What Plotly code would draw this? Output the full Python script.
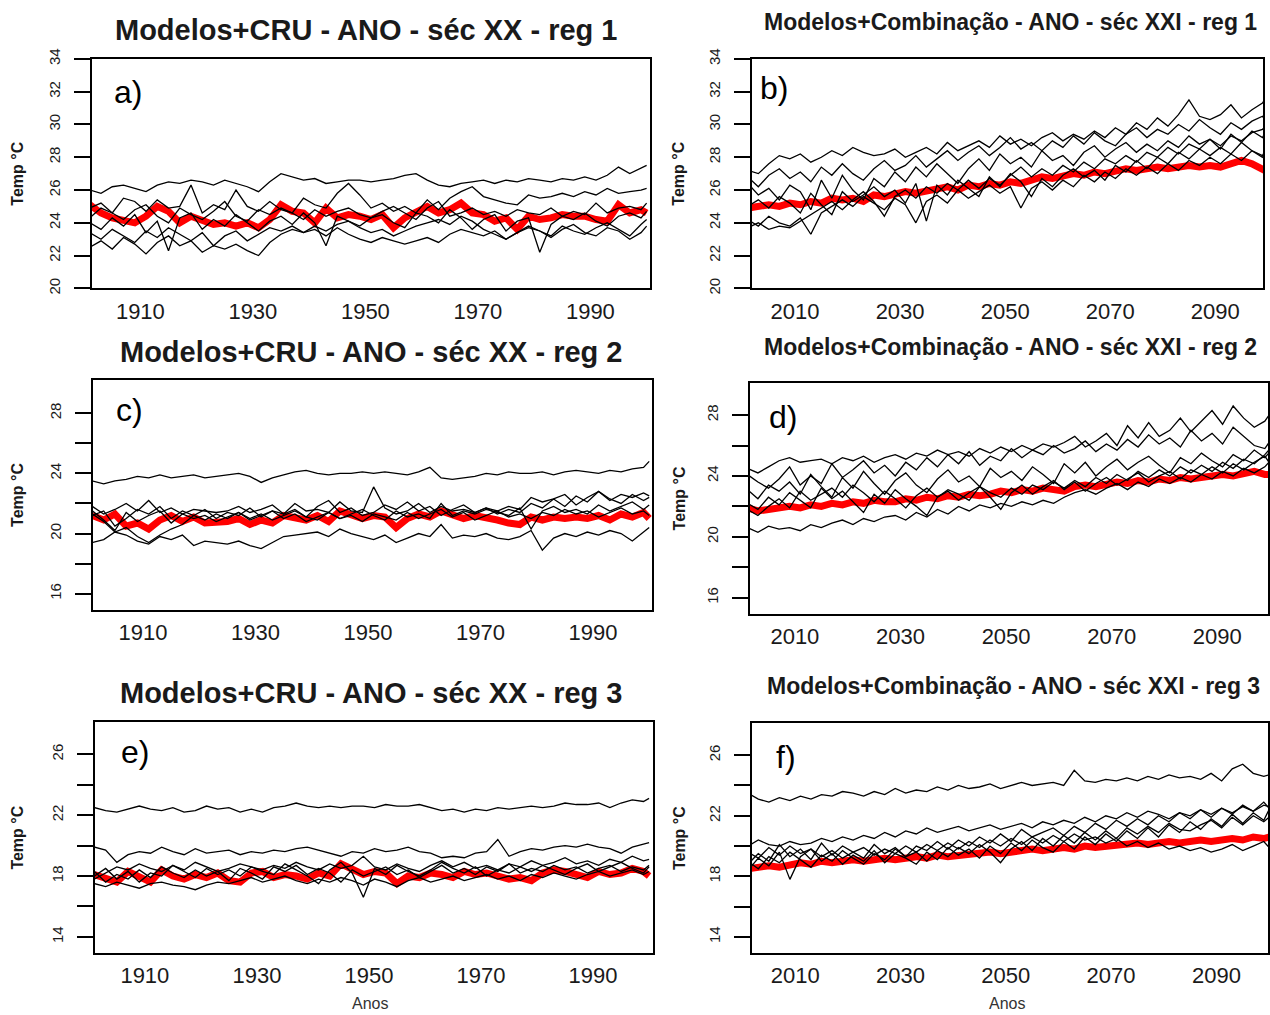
import plotly.graph_objects as go

# ---------------- years (every 2 years + final year) ----------------
years_xx = list(range(1901, 2000, 2)) + [2000]
years_xxi = list(range(2001, 2100, 2)) + [2100]

ticks_xx = [1910, 1930, 1950, 1970, 1990]
ticks_xxi = [2010, 2030, 2050, 2070, 2090]

# ---------------- panel a : sec XX reg 1 ----------------
a_cru = [25.1, 24.6, 24.3, 24.2, 24.0, 24.4, 25.0, 24.7, 24.0, 24.4,
         24.1, 23.9, 24.0, 23.8, 24.0, 23.7, 24.2, 25.1, 24.7, 24.6,
         24.0, 24.9, 24.3, 24.5, 24.4, 24.2, 24.5, 23.7, 24.3, 24.6,
         25.0, 24.6, 24.8, 25.2, 24.6, 24.5, 24.1, 24.3, 23.6, 24.4,
         24.2, 24.3, 24.5, 24.4, 24.4, 24.2, 24.1, 25.1, 24.6, 24.8, 24.6]
a_m1 = [26.0, 25.8, 26.2, 26.3, 26.1, 25.9, 26.3, 26.5, 26.4, 26.6,
        26.5, 26.3, 26.6, 26.4, 26.2, 25.9, 26.5, 27.0, 26.8, 26.6,
        26.7, 26.4, 26.5, 26.6, 26.6, 26.5, 26.6, 26.7, 26.9, 27.0,
        26.6, 26.3, 26.2, 26.4, 26.5, 26.6, 26.4, 26.6, 26.5, 26.7,
        26.6, 26.5, 26.7, 26.6, 26.8, 26.6, 26.9, 27.4, 27.0, 27.3, 27.5]
a_m2 = [24.9, 25.2, 24.6, 25.5, 25.3, 24.7, 25.4, 24.9, 25.0, 26.3,
        24.6, 25.1, 24.8, 26.0, 25.0, 24.7, 25.3, 24.8, 24.6, 25.5,
        25.1, 24.9, 25.8, 26.4, 25.7, 24.9, 25.2, 24.7, 25.0, 24.6,
        25.4, 24.8, 25.5, 25.9, 26.2, 25.6, 25.4, 25.2, 25.1, 25.7,
        25.5, 25.6, 25.8, 25.6, 25.9, 25.7, 26.1, 25.8, 25.9, 26.0, 26.1]
a_m3 = [24.3, 24.9, 24.6, 24.2, 24.8, 25.1, 24.4, 24.0, 24.9, 24.5,
        24.2, 24.7, 25.3, 24.4, 24.1, 24.8, 24.5, 24.9, 24.6, 24.2,
        24.8, 24.4, 24.7, 24.9, 24.5, 24.3, 24.7, 25.0, 24.6, 24.2,
        24.9, 25.3, 24.4, 24.6, 24.9, 24.5, 24.7, 24.4, 24.8, 24.6,
        24.5, 24.9, 24.4, 24.7, 24.5, 25.2, 24.6, 24.9, 25.0, 24.8, 25.2]
a_m4 = [24.0, 23.6, 24.3, 23.8, 24.5, 23.4, 24.1, 22.3, 24.3, 24.6,
        23.6, 24.2, 23.8, 24.5, 24.0, 23.5, 24.1, 24.4, 23.9, 24.6,
        24.0, 22.6, 24.4, 24.1, 23.8, 24.3, 24.5, 24.0, 23.7, 24.6,
        24.4, 24.0, 24.8, 24.3, 23.6, 24.2, 24.5, 23.5, 24.1, 24.3,
        22.2, 23.9, 24.4, 24.2, 24.6, 24.1, 23.8, 24.4, 24.6, 24.3, 24.7]
a_m5 = [23.4, 23.0, 23.6, 23.2, 22.8, 23.5, 23.1, 23.7, 23.3, 22.9,
        23.4, 22.6, 23.2, 23.5, 22.9, 23.3, 23.7, 23.5, 23.8, 23.4,
        23.6, 23.2, 23.7, 23.3, 23.0, 22.8, 23.1, 22.9, 22.7, 22.9,
        23.1, 22.8, 23.3, 23.6, 23.4, 23.2, 23.5, 23.0, 23.4, 23.7,
        23.5, 23.2, 23.8, 23.5, 23.3, 23.7, 24.0, 23.6, 23.2, 23.9, 24.2]
a_m6 = [22.5, 22.9, 22.4, 23.1, 22.7, 22.1, 22.8, 23.2, 22.6, 22.9,
        22.2, 22.6, 22.4, 22.7, 22.3, 22.0, 22.8, 23.3, 23.6, 23.4,
        23.8, 23.5, 23.9, 24.1, 23.7, 23.4, 23.6, 23.2, 23.5, 23.8,
        24.0, 24.2, 23.9, 24.4, 24.1, 23.6, 23.3, 23.0, 23.4, 23.8,
        23.5, 23.1, 23.6, 23.9, 23.4, 23.2, 23.7, 23.5, 23.0, 23.4, 23.8]

# ---------------- panel b : sec XXI reg 1 ----------------
b_comb = [24.9, 25.0, 25.1, 25.0, 25.2, 25.1, 25.3, 25.2, 25.5, 25.4,
          25.5, 25.3, 25.7, 25.6, 25.8, 25.9, 25.8, 25.9, 26.0, 26.2,
          26.0, 26.3, 26.2, 26.4, 26.3, 26.5, 26.4, 26.6, 26.8, 26.7,
          26.9, 27.0, 26.9, 27.1, 27.0, 27.2, 27.3, 27.2, 27.3, 27.4,
          27.3, 27.4, 27.5, 27.4, 27.5, 27.4, 27.6, 27.8, 27.6, 27.3, 27.1]
b_m1 = [27.2, 27.0, 27.6, 28.1, 27.9, 28.2, 27.7, 28.0, 28.4, 28.1,
        28.6, 28.3, 28.1, 28.2, 28.5, 28.0, 28.3, 28.6, 28.2, 28.9,
        28.4, 28.7, 29.0, 28.6, 29.3, 28.8, 29.1, 28.7, 29.2, 29.5,
        29.0, 29.4, 29.1, 29.6, 29.2, 29.8, 29.4, 30.1, 29.7, 30.4,
        29.9, 30.6, 31.5, 30.5, 30.3, 30.6, 31.2, 30.4, 30.9, 31.3, 31.8]
b_m2 = [26.8, 26.2, 26.9, 27.3, 26.7, 27.1, 26.5, 27.4, 26.9, 27.6,
        27.0, 26.6, 27.3, 27.8, 27.2, 27.5, 28.1, 27.4, 27.9, 28.4,
        27.8, 28.3, 28.7, 28.1, 28.6, 29.2, 28.5, 28.9, 28.4, 29.0,
        28.6, 29.3, 28.8, 29.5, 29.0, 28.7, 29.4, 29.8, 29.2, 29.7,
        29.4, 30.0, 29.6, 30.3, 29.8, 29.4, 30.1, 29.7, 30.2, 30.5, 30.0]
b_m3 = [26.4, 25.7, 26.1, 25.4, 26.3, 25.9, 24.8, 26.6, 25.5, 26.9,
        26.0, 25.4, 26.7, 26.2, 27.1, 26.5, 27.4, 26.8, 27.6, 27.0,
        26.4, 27.3, 27.9, 27.2, 28.2, 27.6, 28.0, 27.4, 28.4, 27.8,
        28.1, 27.5, 28.3, 28.7, 28.0, 28.5, 28.9, 28.3, 28.8, 28.4,
        29.0, 28.6, 29.3, 28.8, 29.1, 28.5, 29.4, 28.9, 29.6, 29.2, 29.8]
b_m4 = [25.0, 25.4, 24.9, 25.6, 25.2, 24.6, 25.8, 25.1, 24.5, 25.9,
        25.3, 25.7, 26.2, 25.6, 26.0, 25.2, 26.4, 24.1, 26.3, 25.7,
        26.6, 26.1, 25.6, 26.8, 26.2, 27.0, 26.5, 25.6, 26.7, 26.2,
        26.9, 27.3, 26.8, 27.2, 26.6, 27.5, 27.1, 27.8, 27.3, 28.0,
        27.6, 28.3, 27.9, 28.5, 28.1, 28.6, 28.2, 28.9, 28.4, 28.0, 28.5]
b_m5 = [24.2, 23.8, 24.4, 24.0, 23.8, 24.3, 23.3, 24.6, 25.0, 25.4,
        25.0, 25.6, 25.2, 24.8, 25.5, 25.1, 24.0, 25.3, 25.7, 25.2,
        26.0, 25.5, 25.9, 26.3, 25.8, 26.2, 24.9, 26.1, 26.5, 26.0,
        26.6, 26.2, 26.9, 26.5, 27.1, 26.7, 27.3, 26.9, 27.4, 27.0,
        27.6, 27.2, 27.8, 27.5, 28.0, 27.6, 28.2, 27.8, 28.4, 28.1, 28.7]
b_m6 = [23.7, 24.0, 23.6, 23.8, 23.7, 24.1, 24.5, 24.9, 25.3, 24.8,
        25.4, 25.9, 25.3, 24.4, 25.6, 26.0, 25.5, 26.2, 25.8, 26.4,
        26.0, 26.6, 26.1, 26.7, 26.3, 26.9, 27.4, 26.8, 27.3, 26.9,
        27.5, 27.1, 27.7, 27.3, 27.9, 27.6, 28.1, 27.7, 28.3, 28.0,
        28.6, 28.2, 28.8, 28.5, 29.1, 28.7, 29.3, 29.0, 29.5, 29.7, 30.1]

# ---------------- panel c : sec XX reg 2 ----------------
c_cru = [21.2, 20.9, 21.3, 20.5, 20.7, 20.3, 20.9, 21.2, 20.8, 21.1,
         20.7, 20.7, 20.8, 21.0, 20.6, 20.9, 20.7, 21.2, 21.0, 20.9,
         21.2, 20.8, 21.5, 21.2, 21.0, 21.2, 21.1, 20.4, 21.0, 21.3,
         21.1, 21.5, 21.3, 21.0, 21.2, 21.1, 20.9, 20.7, 20.6, 21.1,
         20.9, 21.1, 21.0, 21.1, 21.0, 21.2, 20.9, 21.3, 21.1, 21.4, 21.0]
c_m1 = [23.5, 23.3, 23.5, 23.6, 23.8, 23.7, 23.9, 23.7, 23.8, 23.9,
        23.7, 23.8, 23.9, 24.0, 23.8, 23.4, 23.7, 23.9, 24.1, 24.2,
        24.0, 23.9, 24.0, 24.0, 24.1, 24.0, 24.1, 24.0, 23.9, 24.1,
        24.4, 23.7, 23.6, 23.7, 23.8, 24.0, 23.9, 24.1, 24.0, 24.0,
        24.1, 23.9, 24.1, 24.2, 24.1, 24.0, 24.2, 24.1, 24.3, 24.4, 24.8]
c_m2 = [21.8, 21.3, 21.6, 22.0, 21.5, 22.2, 21.4, 21.7, 21.3, 21.6,
        21.5, 21.4, 21.5, 21.8, 21.4, 21.6, 21.9, 21.3, 22.0, 21.5,
        21.6, 21.4, 22.1, 21.5, 21.4, 23.1, 21.7, 21.3, 21.5, 22.0,
        21.4, 21.8, 21.5, 21.6, 21.4, 21.7, 21.5, 21.8, 21.6, 22.4,
        22.1, 22.3, 22.6, 21.9, 22.4, 22.8, 22.2, 22.6, 22.4, 22.7, 22.5]
c_m3 = [21.2, 21.5, 20.5, 21.0, 21.6, 21.3, 21.8, 21.0, 21.5, 21.2,
        21.6, 21.0, 21.4, 21.2, 21.7, 21.1, 21.5, 21.3, 21.6, 21.1,
        21.8, 22.2, 21.4, 21.7, 21.2, 21.4, 21.9, 21.6, 22.1, 21.5,
        21.8, 21.2, 21.6, 21.9, 21.4, 21.7, 21.3, 21.6, 21.4, 22.0,
        21.7, 22.3, 21.8, 22.5, 22.1, 22.8, 22.3, 22.0, 22.6, 22.2, 22.4]
c_m4 = [21.5, 20.9, 20.2, 21.4, 20.8, 21.2, 21.5, 20.7, 21.3, 21.0,
        21.2, 20.8, 21.1, 21.4, 21.0, 21.3, 20.9, 21.2, 21.5, 21.1,
        20.9, 21.4, 21.0, 21.3, 21.6, 21.2, 20.9, 21.5, 21.1, 21.3,
        21.0, 22.0, 21.2, 21.5, 21.3, 21.6, 21.4, 21.2, 21.7, 20.3,
        21.5, 21.8, 21.4, 21.6, 21.3, 21.9, 21.5, 21.8, 22.1, 21.6, 21.9]
c_m5 = [21.3, 20.8, 20.1, 20.4, 19.8, 19.4, 19.9, 20.3, 20.6, 21.2,
        20.9, 21.3, 21.0, 21.4, 20.9, 21.2, 21.5, 21.0, 21.3, 20.8,
        21.1, 21.4, 21.0, 21.2, 20.8, 21.3, 21.1, 20.9, 21.4, 21.0,
        21.3, 21.6, 21.1, 21.4, 20.9, 21.2, 21.5, 21.1, 21.3, 21.0,
        21.4, 21.2, 21.6, 21.3, 21.5, 21.1, 21.4, 21.7, 21.3, 21.5, 21.2]
c_m6 = [19.4, 19.6, 20.1, 19.9, 19.5, 19.3, 19.8, 19.6, 19.9, 19.2,
        19.5, 19.4, 19.3, 19.5, 19.2, 19.0, 19.4, 19.8, 19.9, 20.0,
        20.1, 19.8, 20.3, 20.0, 19.8, 19.6, 19.9, 19.4, 19.7, 20.0,
        19.8, 20.6, 19.7, 19.9, 19.8, 20.0, 19.7, 19.6, 19.8, 20.2,
        18.9, 19.7, 20.0, 19.8, 20.1, 19.9, 20.2, 20.0, 19.5, 20.1, 20.4]

# ---------------- panel d : sec XXI reg 2 ----------------
d_comb = [21.9, 21.7, 21.8, 21.9, 22.0, 21.9, 22.1, 22.0, 22.2, 22.1,
          22.3, 22.2, 22.4, 22.3, 22.3, 22.5, 22.4, 22.6, 22.5, 22.7,
          22.6, 22.8, 22.7, 22.8, 23.0, 22.9, 23.1, 23.0, 23.2, 23.1,
          23.0, 23.3, 23.4, 23.3, 23.5, 23.6, 23.5, 23.7, 23.6, 23.8,
          23.7, 23.9, 23.8, 23.9, 24.0, 24.1, 24.0, 24.2, 24.3, 24.1, 24.1]
d_m1 = [24.5, 24.2, 24.6, 25.0, 25.2, 24.9, 25.0, 25.1, 24.8, 25.2,
        25.0, 25.3, 24.9, 25.2, 25.4, 25.1, 25.5, 25.3, 25.7, 25.4,
        25.6, 25.3, 25.8, 25.5, 25.9, 25.6, 26.0, 25.7, 26.1, 25.9,
        26.2, 26.6, 25.9, 26.3, 26.8, 26.0, 27.3, 26.5, 27.5, 26.6,
        27.0, 27.8, 26.9, 27.6, 28.3, 27.4, 28.6, 27.8, 27.2, 27.6, 28.1]
d_m2 = [24.1, 23.6, 23.2, 23.8, 24.6, 23.4, 24.0, 23.5, 24.8, 23.9,
        24.4, 25.0, 24.2, 24.7, 24.0, 24.9, 24.4, 25.2, 24.6, 25.4,
        24.8, 25.6, 24.7, 25.3, 25.0, 25.8, 25.2, 25.7, 25.4, 26.0,
        25.5, 25.8, 26.3, 25.6, 26.1, 25.7, 26.4, 25.9, 26.7, 26.1,
        26.5, 25.9, 27.0, 26.3, 26.8, 26.1, 27.2, 26.6, 26.0, 25.8, 26.3]
d_m3 = [23.1, 22.5, 23.4, 23.0, 23.6, 22.8, 24.1, 23.3, 22.6, 23.9,
        23.2, 24.3, 23.5, 22.8, 23.7, 24.2, 23.4, 22.9, 23.8, 24.4,
        23.6, 24.0, 23.3, 24.5, 23.9, 24.3, 23.7, 24.6, 24.1, 23.5,
        24.8, 24.2, 24.9, 24.0, 24.6, 25.1, 24.4, 24.9, 25.3, 24.7,
        24.2, 25.2, 24.8, 25.5, 25.0, 24.6, 25.4, 25.0, 25.7, 25.2, 25.6]
d_m4 = [22.2, 21.8, 22.6, 22.1, 22.9, 22.4, 21.9, 23.2, 22.5, 23.0,
        22.3, 21.6, 22.8, 22.2, 23.1, 22.5, 22.0, 21.4, 22.6, 23.0,
        22.4, 22.9, 23.3, 22.6, 21.8, 22.9, 23.4, 22.8, 23.3, 23.7,
        23.1, 23.6, 23.0, 23.5, 23.9, 23.4, 23.8, 24.2, 23.6, 24.0,
        24.3, 23.8, 24.4, 24.1, 24.6, 24.2, 24.8, 24.4, 24.9, 25.3, 24.8]
d_m5 = [20.6, 20.3, 20.7, 20.5, 20.6, 20.4, 20.8, 20.6, 20.9, 21.1,
        20.8, 21.2, 21.0, 21.3, 21.4, 21.1, 21.6, 21.3, 21.8, 21.5,
        22.0, 21.7, 22.1, 21.9, 22.2, 22.0, 22.3, 22.1, 22.4, 22.2,
        22.6, 22.9, 23.1, 22.8, 23.2, 23.5, 23.1, 23.6, 23.3, 23.8,
        23.5, 23.9, 23.6, 24.1, 23.8, 24.3, 24.0, 24.5, 24.2, 24.6, 25.0]
d_m6 = [21.8, 21.4, 22.0, 22.5, 21.9, 23.0, 22.4, 22.8, 23.2, 22.6,
        23.4, 22.9, 22.3, 23.0, 22.5, 21.9, 22.7, 23.2, 22.6, 23.1,
        22.8, 22.4, 23.3, 22.9, 22.6, 23.2, 22.8, 23.4, 23.1, 23.6,
        23.2, 23.7, 23.3, 23.9, 23.5, 24.1, 23.7, 24.3, 23.9, 24.4,
        24.0, 24.6, 24.2, 24.7, 24.3, 24.9, 24.5, 25.1, 24.8, 25.4, 25.8]

# ---------------- panel e : sec XX reg 3 ----------------
e_cru = [18.1, 17.8, 17.6, 18.3, 17.9, 17.6, 18.4, 18.0, 17.8, 18.1,
         17.9, 18.2, 17.7, 17.6, 18.2, 18.3, 17.9, 18.1, 18.0, 17.8,
         18.2, 18.0, 18.8, 18.4, 18.1, 18.3, 18.2, 17.5, 18.0, 17.9,
         18.2, 18.1, 17.9, 18.3, 18.1, 18.2, 18.0, 17.8, 17.9, 17.7,
         18.2, 18.4, 18.3, 18.1, 17.9, 18.3, 18.1, 18.2, 18.5, 18.3, 18.0]
e_m1 = [22.5, 22.3, 22.2, 22.4, 22.6, 22.4, 22.3, 22.5, 22.2, 22.3,
        22.6, 22.4, 22.5, 22.2, 22.4, 22.2, 22.5, 22.6, 22.8, 22.6,
        22.5, 22.6, 22.5, 22.6, 22.6, 22.5, 22.7, 22.6, 22.6, 22.7,
        22.5, 22.3, 22.4, 22.2, 22.4, 22.3, 22.5, 22.4, 22.5, 22.6,
        22.5, 22.6, 22.8, 22.7, 22.7, 22.8, 22.5, 22.8, 23.0, 22.9, 23.1]
e_m2 = [19.9, 19.7, 18.9, 19.4, 19.6, 19.5, 19.9, 19.6, 19.4, 19.8,
        19.5, 19.6, 19.7, 19.4, 19.6, 19.5, 19.7, 19.6, 19.8, 19.9,
        19.7, 19.5, 19.3, 19.6, 19.5, 19.8, 19.6, 19.7, 19.9, 19.6,
        19.5, 19.2, 19.3, 19.2, 19.5, 19.6, 20.4, 19.3, 19.6, 19.8,
        19.7, 19.9, 20.0, 19.9, 20.1, 19.9, 19.8, 19.5, 19.9, 20.1, 20.2]
e_m3 = [18.3, 17.6, 18.1, 17.8, 18.4, 17.9, 18.6, 18.2, 17.9, 18.4,
        18.0, 18.3, 17.7, 18.5, 18.2, 17.8, 18.6, 18.3, 18.7, 18.1,
        18.5, 18.2, 17.6, 18.4, 18.0, 18.3, 18.6, 18.1, 18.4, 17.9,
        18.3, 18.7, 18.2, 18.5, 18.1, 18.6, 18.3, 18.8, 18.2, 18.5,
        18.3, 18.7, 18.4, 18.6, 18.2, 18.5, 18.7, 18.3, 18.6, 18.4, 18.7]
e_m4 = [18.0, 18.5, 17.8, 18.3, 17.6, 18.2, 18.0, 18.7, 18.3, 17.9,
        18.5, 18.1, 18.4, 18.0, 18.6, 18.3, 18.1, 18.8, 18.4, 18.0,
        17.5, 18.4, 18.9, 18.2, 16.6, 18.5, 18.1, 18.7, 18.3, 18.0,
        18.4, 18.9, 18.5, 18.2, 18.6, 18.0, 18.4, 18.2, 18.6, 18.3,
        18.7, 18.4, 18.1, 18.5, 18.8, 18.3, 18.6, 18.9, 18.5, 18.2, 18.6]
e_m5 = [17.5, 17.3, 17.6, 17.4, 17.2, 17.5, 17.6, 17.4, 17.3, 17.1,
        17.4, 17.6, 17.5, 17.7, 17.9, 17.6, 17.8, 18.0, 17.7, 17.5,
        17.8, 17.6, 17.9, 17.7, 17.4, 17.8, 17.6, 17.3, 17.7, 17.9,
        17.6, 17.8, 18.0, 17.7, 17.9, 18.1, 17.8, 18.0, 17.7, 18.1,
        17.9, 18.2, 18.0, 17.8, 18.1, 18.3, 18.0, 18.2, 18.4, 18.1, 18.3]
e_m6 = [17.8, 18.2, 18.6, 18.4, 18.8, 18.5, 18.3, 18.7, 18.4, 18.9,
        18.6, 18.3, 18.5, 18.8, 18.6, 18.4, 18.7, 18.5, 18.9, 18.6,
        18.4, 18.8, 18.5, 18.7, 19.3, 18.6, 18.4, 18.8, 18.5, 18.3,
        18.7, 19.0, 18.6, 18.9, 18.5, 18.7, 18.4, 18.8, 18.6, 19.0,
        18.7, 18.9, 19.2, 18.8, 19.0, 18.7, 19.1, 18.9, 19.3, 19.0, 19.1]

# ---------------- panel f : sec XXI reg 3 ----------------
f_comb = [18.5, 18.6, 18.7, 18.6, 18.8, 18.9, 18.8, 19.0, 18.9, 19.0,
          19.1, 19.0, 19.1, 19.2, 19.1, 19.2, 19.3, 19.2, 19.4, 19.3,
          19.4, 19.5, 19.5, 19.6, 19.5, 19.6, 19.7, 19.8, 19.7, 19.8,
          19.9, 19.8, 20.0, 19.9, 20.0, 20.1, 20.1, 20.2, 20.1, 20.2,
          20.3, 20.2, 20.3, 20.4, 20.3, 20.4, 20.5, 20.4, 20.6, 20.5, 20.6]
f_m1 = [23.5, 23.1, 22.9, 23.2, 23.0, 23.3, 23.1, 23.4, 23.3, 23.6,
        23.5, 23.3, 23.6, 23.4, 23.8, 23.5, 23.7, 23.6, 23.9, 23.7,
        24.0, 23.8, 23.9, 24.1, 23.8, 24.0, 24.2, 24.0, 24.1, 24.2,
        24.0, 25.0, 24.3, 24.2, 24.4, 24.3, 24.5, 24.3, 24.6, 24.4,
        24.7, 24.5, 24.6, 24.4, 24.8, 24.3, 25.1, 25.4, 24.8, 24.6, 24.7]
f_m2 = [20.0, 20.4, 20.1, 20.0, 20.3, 20.1, 20.2, 20.5, 20.3, 20.6,
        20.4, 20.7, 20.5, 20.9, 20.6, 21.0, 20.8, 21.2, 20.9, 21.1,
        21.3, 21.0, 21.2, 21.4, 21.1, 21.3, 21.5, 21.2, 21.6, 21.4,
        21.7, 21.5, 21.9, 21.6, 22.0, 21.8, 22.2, 21.9, 22.3, 22.1,
        21.8, 22.2, 22.0, 22.4, 22.1, 22.5, 22.2, 22.6, 22.3, 22.7, 22.6]
f_m3 = [18.8, 19.5, 19.0, 20.1, 19.3, 19.8, 19.1, 20.2, 19.4, 20.0,
        19.6, 19.2, 20.1, 19.5, 19.9, 19.3, 20.0, 19.7, 20.3, 19.8,
        20.4, 20.0, 20.6, 20.2, 20.8, 20.3, 21.1, 20.6, 20.9, 21.2,
        20.7, 21.3, 20.9, 21.5, 21.1, 21.7, 21.3, 21.8, 21.4, 22.0,
        21.6, 22.2, 21.8, 22.4, 21.9, 22.5, 22.1, 22.7, 22.3, 22.9, 22.5]
f_m4 = [18.4, 19.2, 18.7, 19.6, 17.8, 19.3, 19.8, 19.0, 19.5, 18.8,
        19.4, 19.0, 19.7, 18.9, 19.5, 19.2, 18.8, 19.6, 19.1, 19.9,
        19.4, 19.8, 19.2, 20.0, 19.5, 20.2, 19.7, 20.4, 19.9, 19.6,
        20.3, 19.8, 20.6, 20.1, 20.8, 20.3, 21.0, 20.5, 21.2, 20.6,
        21.4, 20.9, 21.6, 21.1, 21.8, 21.3, 22.1, 21.5, 22.2, 21.7, 22.4]
f_m5 = [19.0, 18.5, 19.3, 18.9, 19.6, 19.1, 18.6, 19.4, 19.0, 19.7,
        19.2, 18.8, 19.5, 19.1, 19.8, 19.3, 19.6, 19.0, 19.7, 19.3,
        19.9, 19.5, 20.1, 19.6, 18.9, 19.8, 20.3, 19.7, 20.5, 20.0,
        20.7, 20.2, 20.9, 20.4, 21.0, 20.5, 21.2, 20.8, 21.3, 20.9,
        21.5, 21.1, 21.0, 21.4, 21.7, 21.2, 21.9, 21.4, 22.0, 21.6, 21.9]
f_m6 = [19.6, 19.2, 19.9, 19.4, 20.0, 19.5, 19.8, 19.3, 19.7, 19.2,
        19.6, 19.9, 19.4, 19.8, 19.5, 20.0, 19.6, 20.1, 19.7, 20.2,
        19.8, 20.3, 19.9, 20.4, 20.0, 20.5, 20.1, 20.6, 20.2, 20.7,
        20.3, 20.8, 20.4, 20.6, 20.2, 20.5, 20.0, 20.3, 19.9, 20.2,
        19.8, 20.0, 19.7, 19.9, 19.6, 19.8, 20.1, 19.7, 20.0, 20.3, 19.9]

# ---------------- text ----------------
titles = ["Modelos+CRU - ANO - séc XX - reg 1",
          "Modelos+Combinação - ANO - séc XXI - reg 1",
          "Modelos+CRU - ANO - séc XX - reg 2",
          "Modelos+Combinação - ANO - séc XXI - reg 2",
          "Modelos+CRU - ANO - séc XX - reg 3",
          "Modelos+Combinação - ANO - séc XXI - reg 3"]
panel_labels = ["a)", "b)", "c)", "d)", "e)", "f)"]
ytitle = "Temp °C"
xtitle = "Anos"

# ---------------- layout geometry (target pixels on the 1270x1015 page) ----------------
W, H = 1270, 1015
OFF_Y = 9        # observed vertical offset of the figure in the page
SCALE_Y = 0.9855  # observed vertical scale of the captured page


def px(x):
    return x / W


def py(y):
    return 1 - ((y - OFF_Y) / SCALE_Y) / H


panels = [
    dict(years=years_xx, obs=a_cru, models=[a_m1, a_m2, a_m3, a_m4, a_m5, a_m6],
         box=(92, 650, 57, 287), yr=[20, 34], yt=[20, 22, 24, 26, 28, 30, 32, 34],
         yl=["20", "22", "24", "26", "28", "30", "32", "34"], xt=ticks_xx, xr=[1901.4, 2000.6],
         tpos=(367, 28), tsize=29, lpos=(112, 90)),
    dict(years=years_xxi, obs=b_comb, models=[b_m1, b_m2, b_m3, b_m4, b_m5, b_m6],
         box=(752, 1263, 57, 287), yr=[20, 34], yt=[20, 22, 24, 26, 28, 30, 32, 34],
         yl=["20", "22", "24", "26", "28", "30", "32", "34"], xt=ticks_xxi, xr=[2001.8, 2099.1],
         tpos=(1010, 20), tsize=23, lpos=(758, 86)),
    dict(years=years_xx, obs=c_cru, models=[c_m1, c_m2, c_m3, c_m4, c_m5, c_m6],
         box=(93, 652, 379, 609), yr=[14.94, 30.2], yt=[16, 18, 20, 22, 24, 26, 28],
         yl=["16", "", "20", "", "24", "", "28"], xt=ticks_xx, xr=[1901.1, 2000.5],
         tpos=(371, 351), tsize=29, lpos=(114, 409)),
    dict(years=years_xxi, obs=d_comb, models=[d_m1, d_m2, d_m3, d_m4, d_m5, d_m6],
         box=(750, 1268, 382, 613), yr=[14.95, 30.1], yt=[16, 18, 20, 22, 24, 26, 28],
         yl=["16", "", "20", "", "24", "", "28"], xt=ticks_xxi, xr=[2001.5, 2099.6],
         tpos=(1010, 346), tsize=23, lpos=(767, 416)),
    dict(years=years_xx, obs=e_cru, models=[e_m1, e_m2, e_m3, e_m4, e_m5, e_m6],
         box=(95, 653, 722, 953), yr=[12.95, 28.1], yt=[14, 16, 18, 20, 22, 24, 26],
         yl=["14", "", "18", "", "22", "", "26"], xt=ticks_xx, xr=[1901.1, 2000.7],
         tpos=(371, 693), tsize=29, lpos=(119, 752)),
    dict(years=years_xxi, obs=f_comb, models=[f_m1, f_m2, f_m3, f_m4, f_m5, f_m6],
         box=(752, 1268, 723, 953), yr=[12.95, 28.1], yt=[14, 16, 18, 20, 22, 24, 26],
         yl=["14", "", "18", "", "22", "", "26"], xt=ticks_xxi, xr=[2001.8, 2099.8],
         tpos=(1013, 686), tsize=23, lpos=(774, 757)),
]

FONT = "Liberation Sans, Arial, sans-serif"
fig = go.Figure()
annotations = []
layout = dict(width=W, height=H, margin=dict(l=0, r=0, t=0, b=0),
              paper_bgcolor="white", plot_bgcolor="white", showlegend=False,
              font=dict(family=FONT, color="#1a1a1a"))

for k, p in enumerate(panels, start=1):
    sx = "" if k == 1 else str(k)
    xref, yref = "x" + sx, "y" + sx
    yrs = p["years"]
    fig.add_trace(go.Scatter(x=yrs[:len(p["obs"])], y=p["obs"], mode="lines",
                             line=dict(color="#ff0000", width=7),
                             xaxis=xref, yaxis=yref, hoverinfo="skip"))
    for m in p["models"]:
        fig.add_trace(go.Scatter(x=yrs[:len(m)], y=m, mode="lines",
                                 line=dict(color="black", width=1.3),
                                 xaxis=xref, yaxis=yref, hoverinfo="skip"))
    x0, x1, y0, y1 = p["box"]
    layout["xaxis" + sx] = dict(domain=[px(x0), px(x1)], range=p["xr"], anchor=yref,
                                showline=True, mirror=True, linecolor="black", linewidth=1.6,
                                tickvals=p["xt"], ticks="", ticklabelstandoff=2,
                                tickfont=dict(size=22, color="#1a1a1a", family=FONT),
                                showgrid=False, zeroline=False, fixedrange=True)
    layout["yaxis" + sx] = dict(domain=[py(y1), py(y0)], range=p["yr"], anchor=xref,
                                showline=True, mirror=True, linecolor="black", linewidth=1.6,
                                tickvals=p["yt"], ticktext=p["yl"], ticks="outside",
                                ticklen=16, tickwidth=1.5, tickcolor="black", tickangle=-90,
                                ticklabelstandoff=8,
                                tickfont=dict(size=15, color="#1a1a1a", family=FONT),
                                showgrid=False, zeroline=False, fixedrange=True)
    tx, ty = p["tpos"]
    annotations.append(dict(text="<b>%s</b>" % titles[k - 1], x=px(tx), y=py(ty),
                            xref="paper", yref="paper", showarrow=False,
                            xanchor="center", yanchor="middle",
                            font=dict(size=p["tsize"], color="#1a1a1a", family=FONT)))
    lx, ly = p["lpos"]
    annotations.append(dict(text=panel_labels[k - 1], x=px(lx), y=py(ly),
                            xref="paper", yref="paper", showarrow=False,
                            xanchor="left", yanchor="middle",
                            font=dict(size=32, color="black", family=FONT)))
    ytx = 18 if k % 2 == 1 else 679
    annotations.append(dict(text="<b>%s</b>" % ytitle, x=px(ytx), y=py((y0 + y1) / 2),
                            xref="paper", yref="paper", showarrow=False, textangle=-90,
                            xanchor="center", yanchor="middle",
                            font=dict(size=16, color="#1a1a1a", family=FONT)))

for ax in (370, 1007):
    annotations.append(dict(text=xtitle, x=px(ax), y=py(1004), xref="paper", yref="paper",
                            showarrow=False, xanchor="center", yanchor="middle",
                            font=dict(size=16, color="#333333", family=FONT)))

layout["annotations"] = annotations
fig.update_layout(**layout)
fig.write_html("out.html", config={"displayModeBar": False},
               post_script="document.body.style.margin='0px';"
                           "document.body.style.padding='0px';"
                           "document.body.style.overflow='hidden';")
